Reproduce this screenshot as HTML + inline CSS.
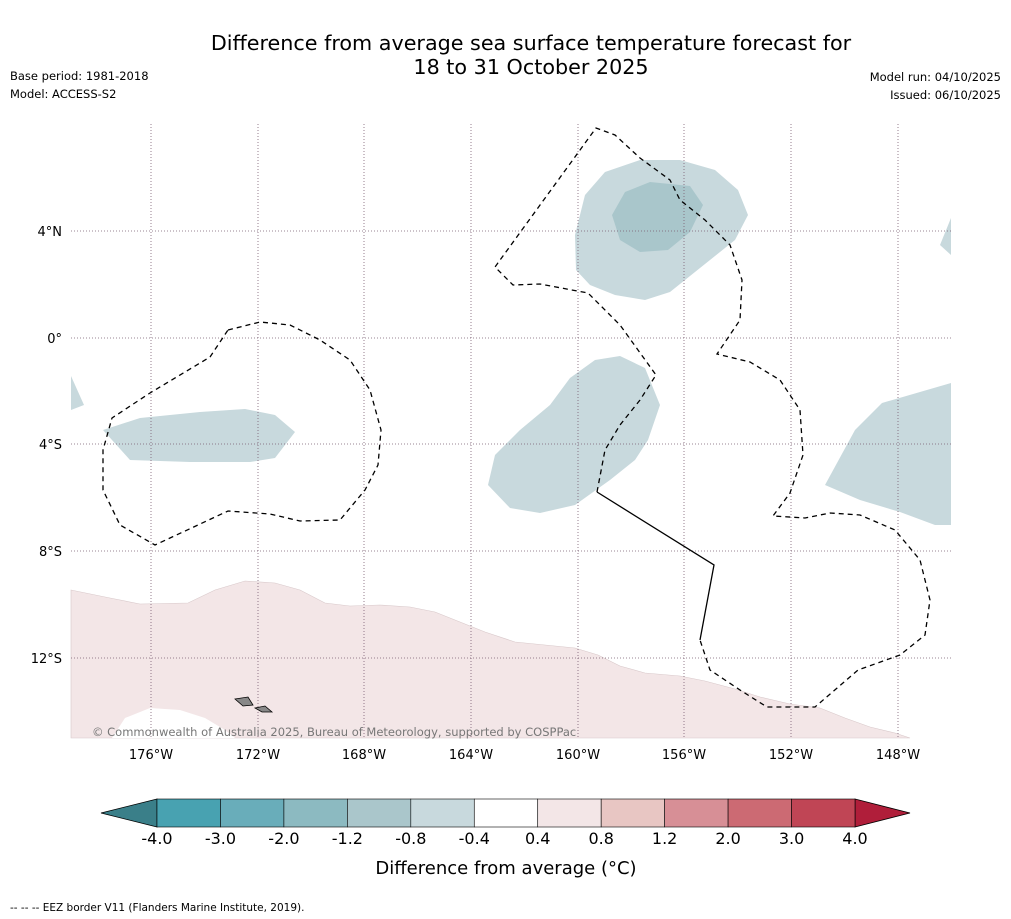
<!DOCTYPE html>
<html><head><meta charset="utf-8"><style>
body{margin:0;background:#fff;}
svg{display:block;font-family:"DejaVu Sans","Liberation Sans",sans-serif;}
</style></head><body>
<svg width="1011" height="919" viewBox="0 0 1011 919" xmlns="http://www.w3.org/2000/svg">
<rect width="1011" height="919" fill="#fff"/>
<text x="531" y="50" font-size="20.7" text-anchor="middle">Difference from average sea surface temperature forecast for</text>
<text x="531" y="74" font-size="20.7" text-anchor="middle">18 to 31 October 2025</text>
<text x="10" y="80" font-size="11.5">Base period: 1981-2018</text>
<text x="10" y="98" font-size="11.5">Model: ACCESS-S2</text>
<text x="1001" y="81" font-size="11.5" text-anchor="end">Model run: 04/10/2025</text>
<text x="1001" y="99" font-size="11.5" text-anchor="end">Issued: 06/10/2025</text>

<g>
<path fill="#f3e6e7" stroke="#d8c8ca" stroke-width="0.6" d="M71,590 L110,598 L140,604 L188,603 L215,590 L245,581 L275,583 L300,590 L325,603 L350,606 L380,605 L410,607 L435,612 L460,622 L485,632 L515,642 L545,645 L575,648 L598,655 L620,666 L645,673 L680,676 L705,681 L735,689 L760,697 L790,704 L820,708 L845,718 L870,727 L895,733 L910,738 L71,738 Z"/>
<path fill="#fff" d="M112,738 L125,718 L150,708 L180,710 L205,718 L225,730 L235,738 Z"/>
<g fill="#c8d9dd">
<polygon points="575,235 585,195 605,172 640,160 680,160 715,170 738,190 748,215 735,240 700,268 670,292 645,300 615,295 590,285 576,270"/>
<polygon points="488,485 495,455 520,430 550,405 570,378 595,360 620,356 645,368 660,405 648,440 635,460 610,480 575,505 540,513 510,508"/>
<polygon points="103,430 140,418 200,412 245,409 275,415 295,432 275,458 250,462 190,462 130,460"/>
<polygon points="825,485 855,430 882,403 951,383 951,525 935,525 900,512 860,500"/>
<polygon points="71,376 84,405 71,410"/>
<polygon points="940,245 951,218 951,255"/>
</g>
<polygon fill="#a9c6cb" points="612,215 625,192 650,182 690,186 703,205 690,232 668,250 640,252 620,240"/>
<g stroke="#7a5c70" stroke-width="0.8" stroke-dasharray="1,2">
<line x1="151" y1="124" x2="151" y2="738"/><line x1="258" y1="124" x2="258" y2="738"/>
<line x1="364" y1="124" x2="364" y2="738"/><line x1="471" y1="124" x2="471" y2="738"/>
<line x1="578" y1="124" x2="578" y2="738"/><line x1="684" y1="124" x2="684" y2="738"/>
<line x1="791" y1="124" x2="791" y2="738"/><line x1="898" y1="124" x2="898" y2="738"/>
<line x1="71" y1="231" x2="951" y2="231"/><line x1="71" y1="338" x2="951" y2="338"/>
<line x1="71" y1="444" x2="951" y2="444"/><line x1="71" y1="551" x2="951" y2="551"/>
<line x1="71" y1="658" x2="951" y2="658"/>
</g>
<g fill="none" stroke="#000" stroke-width="1.3">
<polyline stroke-dasharray="5,4" points="597,492 605,450 620,425 640,400 656,375 620,325 588,293 540,284 513,285 495,267 596,128 615,135 640,158 670,180 680,200 705,220 730,245 742,280 740,320 717,354 750,362 780,380 800,410 803,455 790,493 773,516 805,518 830,513 860,515 895,530 920,560 930,600 925,635 900,655 858,670 815,707 767,707 740,690 710,670 700,640"/>
<polyline points="597,492 714,565 700,640"/>
<polygon stroke-dasharray="5,4" points="228,330 260,322 290,325 320,340 350,360 370,390 381,430 378,465 365,490 340,520 300,521 270,514 228,511 155,545 120,525 103,490 103,450 112,418 150,393 210,357"/>
</g>
<g fill="#888" stroke="#000" stroke-width="0.8">
<polygon points="235,699 248,697 253,705 243,706"/>
<polygon points="255,708 265,706 272,712 262,712"/>
</g>
<text x="92" y="736" font-size="11.5" fill="#777">© Commonwealth of Australia 2025, Bureau of Meteorology, supported by COSPPac</text>
</g>
<g font-size="13">
<text x="62" y="236" text-anchor="end">4°N</text><text x="62" y="343" text-anchor="end">0°</text>
<text x="62" y="449" text-anchor="end">4°S</text><text x="62" y="556" text-anchor="end">8°S</text>
<text x="62" y="663" text-anchor="end">12°S</text>
</g>
<g font-size="13" text-anchor="middle">
<text x="151" y="759">176°W</text><text x="258" y="759">172°W</text><text x="364" y="759">168°W</text>
<text x="471" y="759">164°W</text><text x="578" y="759">160°W</text><text x="684" y="759">156°W</text>
<text x="791" y="759">152°W</text><text x="898" y="759">148°W</text>
</g>
<g id="cbar"></g>
<text x="506" y="874" font-size="18" text-anchor="middle">Difference from average (°C)</text>
<text x="10" y="911" font-size="10.5">--  --  -- EEZ border V11 (Flanders Marine Institute, 2019).</text>
</svg>
<script>
const cbTicks=["-4.0","-3.0","-2.0","-1.2","-0.8","-0.4","0.4","0.8","1.2","2.0","3.0","4.0"];
const cbColors=["#48a2b1","#69adba","#8cbac1","#aac6cb","#c8d9dd","#ffffff","#f3e6e7","#e8c6c3","#d78f96","#cc6a73","#c04555"];
const cbUnder="#3a7f89",cbOver="#b01e3a";
const NS="http://www.w3.org/2000/svg";
const g=document.getElementById('cbar');
const x0=157,x1=855,y0=799,y1=827,n=cbColors.length,w=(x1-x0)/n;
function mk(t,a){const e=document.createElementNS(NS,t);for(const k in a)e.setAttribute(k,a[k]);g.appendChild(e);return e;}
let u=mk('polygon',{points:`${x0},${y0} 101,${(y0+y1)/2} ${x0},${y1}`,fill:cbUnder,stroke:'#000','stroke-width':0.8});


let o=mk('polygon',{points:`${x1},${y0} 910,${(y0+y1)/2} ${x1},${y1}`,fill:cbOver,stroke:'#000','stroke-width':0.8});


cbColors.forEach((c,i)=>{
 const r=mk('rect',{x:x0+i*w,y:y0,width:w,height:y1-y0,fill:c,stroke:'#000','stroke-width':0.6});
 
 
});
cbTicks.forEach((t,i)=>{
 const e=mk('text',{x:x0+i*w,y:844,'font-size':16,'text-anchor':'middle'});
 e.textContent=t;
 
 
});
</script>
</body></html>
